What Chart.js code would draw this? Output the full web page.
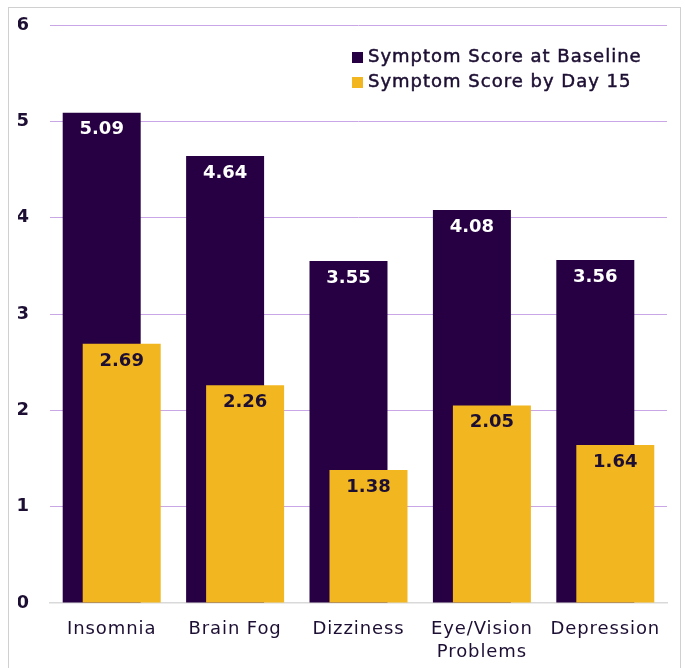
<!DOCTYPE html>
<html>
<head>
<meta charset="utf-8">
<script src="https://cdn.jsdelivr.net/npm/chart.js@4/dist/chart.umd.min.js"></script>
<style>
  html, body { margin: 0; padding: 0; background: #fff; }
  #wrap { position: relative; width: 685px; height: 668px; overflow: hidden; }
  #frame {
    position: absolute; left: 8px; top: 7px; width: 673px; height: 700px;
    border: 1px solid #d0d0d0; box-sizing: border-box;
  }
  canvas { position: absolute; left: 0; top: 0; }
</style>
</head>
<body>
<div id="wrap">
  <div id="frame"></div>
  <canvas id="chart" width="685" height="668"></canvas>
</div>
<script>
/* ── Data ─────────────────────────────────────────────── */
const categories = ['Insomnia', 'Brain Fog', 'Dizziness', ['Eye/Vision', 'Problems'], 'Depression'];
const baselineScores = [5.09, 4.64, 3.55, 4.08, 3.56];
const day15Scores = [2.69, 2.26, 1.38, 2.05, 1.64];
const seriesLabels = ['Symptom Score at Baseline', 'Symptom Score by Day 15'];
const yTicks = [0, 1, 2, 3, 4, 5, 6];

const PURPLE = '#260042';
const YELLOW = '#f2b620';
const INK = '#1d0f33';
const FONT = "'DejaVu Sans', sans-serif";

/* ── Plugins ──────────────────────────────────────────── */

// Shift the two series apart so they overlap like the reference
const overlapShift = {
  id: 'overlapShift',
  afterDatasetsUpdate(chart) {
    const shifts = [-10, 10];
    chart.data.datasets.forEach((ds, i) => {
      chart.getDatasetMeta(i).data.forEach(bar => { bar.x += shifts[i]; });
    });
  }
};

// Slightly wider text to get closer to the original geometric font
const spacing = {
  id: 'spacing',
  beforeDraw(chart) { chart.ctx.letterSpacing = '0.9px'; },
  afterDraw(chart) { chart.ctx.letterSpacing = '0px'; }
};

// Value labels inside the top of each bar
const valueLabels = {
  id: 'valueLabels',
  afterDatasetsDraw(chart) {
    const ctx = chart.ctx;
    ctx.save();
    ctx.letterSpacing = '0px';
    ctx.font = `700 18px ${FONT}`;
    ctx.textAlign = 'center';
    ctx.textBaseline = 'middle';
    chart.data.datasets.forEach((ds, i) => {
      ctx.fillStyle = i === 0 ? '#ffffff' : INK;
      chart.getDatasetMeta(i).data.forEach((bar, j) => {
        ctx.fillText(ds.data[j].toFixed(2), bar.x, bar.y + 17);
      });
    });
    ctx.restore();
  }
};

// Legend drawn inside the plot, top right
const innerLegend = {
  id: 'innerLegend',
  afterDraw(chart) {
    const ctx = chart.ctx;
    ctx.save();
    ctx.letterSpacing = '1px';
    ctx.font = `400 18px ${FONT}`;
    ctx.textBaseline = 'middle';
    ctx.lineWidth = 0.5;
    const x = 352, y0 = 57.5, gap = 25;
    chart.data.datasets.forEach((ds, i) => {
      const y = y0 + i * gap;
      ctx.fillStyle = ds.backgroundColor;
      ctx.fillRect(x, y - 5.5, 11, 11);
      ctx.fillStyle = INK;
      ctx.strokeStyle = INK;
      ctx.fillText(ds.label, x + 16, y);
      ctx.strokeText(ds.label, x + 16, y);
    });
    ctx.restore();
  }
};

/* ── Chart ────────────────────────────────────────────── */

new Chart(document.getElementById('chart').getContext('2d'), {
  type: 'bar',
  data: {
    labels: categories,
    datasets: [
      { label: seriesLabels[0], data: baselineScores, backgroundColor: PURPLE, order: 2 },
      { label: seriesLabels[1], data: day15Scores, backgroundColor: YELLOW, order: 1 },
    ],
  },
  options: {
    responsive: false,
    animation: false,
    layout: { padding: { left: 18, right: 18, top: 25, bottom: 4 } },
    datasets: {
      bar: { grouped: false, categoryPercentage: 1, barPercentage: 0.632 },
    },
    plugins: {
      legend: { display: false },
      tooltip: { enabled: false },
    },
    scales: {
      x: {
        afterFit(axis) { axis.height = 61; axis.paddingLeft = 0; axis.paddingRight = 0; },
        grid: { display: false, drawTicks: false },
        border: { display: true, color: '#d9d9d9', width: 1.5 },
        ticks: { color: INK, font: { family: FONT, size: 18, weight: '400', lineHeight: '23px' }, padding: 15, maxRotation: 0 },
      },
      y: {
        min: 0,
        max: 6,
        afterBuildTicks(axis) { axis.ticks = yTicks.map(v => ({ value: v })); },
        afterFit(axis) { axis.width = 32; axis.paddingTop = 0; axis.paddingBottom = 0; },
        grid: {
          drawTicks: false,
          color: ctx => (ctx.tick && ctx.tick.value === 0 ? 'rgba(0,0,0,0)' : '#c9a6e6'),
          lineWidth: 1,
        },
        border: { display: false },
        ticks: { color: INK, font: { family: FONT, size: 18, weight: '700' }, padding: 20 },
      },
    },
  },
  plugins: [overlapShift, spacing, valueLabels, innerLegend],
});
</script>
</body>
</html>
